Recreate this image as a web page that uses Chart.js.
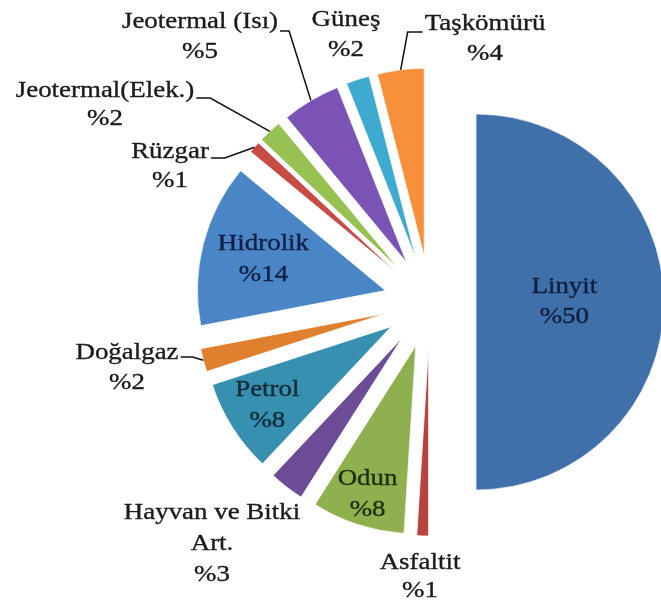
<!DOCTYPE html>
<html><head><meta charset="utf-8">
<script src="https://cdn.jsdelivr.net/npm/chart.js@4.4.1/dist/chart.umd.min.js"></script>
<style>html,body{margin:0;padding:0;background:#fff;} canvas{display:block;}</style>
</head><body>
<canvas id="c" width="661" height="606"></canvas>
<script>
// ---- data ----
const categories = ['Linyit','Asfaltit','Odun','Hayvan ve Bitki Art.','Petrol','Doğalgaz','Hidrolik','Rüzgar','Jeotermal(Elek.)','Jeotermal (Isı)','Güneş','Taşkömürü'];
const shares = [50,1,8,3,8,2,14,1,2,5,2,4];
const valueLabels = ['%50','%1','%8','%3','%8','%2','%14','%1','%2','%5','%2','%4'];

// ---- style ----
const sliceColors = ['#4070A9','#B8443F','#8EB04F','#6C4C97','#3790AF','#E0802F','#4A85C6','#C84B45','#97C150','#7B53B5','#3FAACF','#F7903A'];
const EXPLODE = 46;
const RADIUS = 188;
const FONT = '23px "Liberation Serif", "Times New Roman", serif';
const SX = 1.17;
const labelStyle = [
  {inside:true, f:0.47, lh:30, color:'#0e1f3f'},
  {x:420, y:563, lh:28},
  {inside:true, f:0.83, lh:31, color:'#1d2e0c'},
  {x:212, y:513, lh:31, lines:['Hayvan ve Bitki','Art.']},
  {inside:true, f:0.78, lh:31, color:'#0d2a38'},
  {x:127, y:353, lh:30, leader:{side:'right', dy:4, stub:12}},
  {inside:true, f:0.67, lh:31, color:'#0e1f44'},
  {x:170, y:152, lh:29, leader:{side:'right', dy:6, stub:14}},
  {x:105, y:91, lh:28, leader:{side:'right', dy:7, stub:14}},
  {x:200, y:22, lh:30, leader:{side:'right', dy:9, stub:9}},
  {x:346, y:20, lh:30},
  {x:485, y:24, lh:30, leader:{side:'left', dy:8, stub:15}}
];

const explodePlugin = {
  id:'explode',
  beforeDatasetsDraw(chart){
    chart.getDatasetMeta(0).data.forEach(arc => {
      if (arc._exploded) return;
      const orig = arc.draw.bind(arc);
      arc.draw = function(ctx){
        const a = (this.startAngle + this.endAngle) / 2;
        ctx.save();
        ctx.translate(Math.cos(a) * EXPLODE, Math.sin(a) * EXPLODE);
        orig(ctx);
        ctx.restore();
      };
      arc._exploded = true;
    });
  }
};

function drawText(ctx, str, x, y){
  ctx.save();
  ctx.translate(x, y);
  ctx.scale(SX, 1);
  ctx.strokeStyle = ctx.fillStyle;
  ctx.lineWidth = 0.35;
  ctx.fillText(str, 0, 0);
  ctx.strokeText(str, 0, 0);
  ctx.restore();
}

const labelPlugin = {
  id:'sliceLabels',
  afterDatasetsDraw(chart){
    const ctx = chart.ctx;
    ctx.save();
    ctx.font = FONT;
    ctx.textAlign = 'center';
    ctx.textBaseline = 'middle';
    chart.getDatasetMeta(0).data.forEach((arc, i) => {
      const p = arc.getProps(['x','y','startAngle','endAngle','outerRadius'], true);
      const a = (p.startAngle + p.endAngle) / 2;
      const st = labelStyle[i];
      const lines = (st.lines || [categories[i]]).concat([valueLabels[i]]);
      if (st.inside) {
        const d = EXPLODE + st.f * p.outerRadius;
        const cx = p.x + Math.cos(a) * d, cy = p.y + Math.sin(a) * d;
        ctx.fillStyle = st.color;
        const y0 = cy - (lines.length - 1) * st.lh / 2;
        lines.forEach((t, k) => drawText(ctx, t, cx, y0 + k * st.lh));
      } else {
        ctx.fillStyle = '#1b1b1b';
        lines.forEach((t, k) => drawText(ctx, t, st.x, st.y + k * st.lh));
        if (st.leader) {
          const w = ctx.measureText(lines[0]).width * SX;
          const L = st.leader;
          const sx = L.side === 'right' ? st.x + w / 2 + 2 : st.x - w / 2 - 2;
          const ex = L.side === 'right' ? sx + L.stub : sx - L.stub;
          const ly = st.y + L.dy;
          const d = EXPLODE + p.outerRadius;
          const px = p.x + Math.cos(a) * d, py = p.y + Math.sin(a) * d;
          ctx.strokeStyle = '#111';
          ctx.lineWidth = 1.5;
          ctx.beginPath();
          ctx.moveTo(sx, ly);
          ctx.lineTo(ex, ly);
          ctx.lineTo(px, py);
          ctx.stroke();
        }
      }
    });
    ctx.restore();
  }
};

new Chart(document.getElementById('c'), {
  type:'pie',
  data:{
    labels:categories,
    datasets:[{
      data:shares,
      backgroundColor:sliceColors,
      borderColor:'rgba(255,255,255,0.7)',
      borderWidth:1,
      radius:RADIUS,
      clip:false
    }]
  },
  options:{
    responsive:false,
    animation:false,
    devicePixelRatio:1,
    events:[],
    layout:{padding:{left:199,right:0,top:0,bottom:2}},
    plugins:{legend:{display:false}, tooltip:{enabled:false}}
  },
  plugins:[explodePlugin, labelPlugin]
});
</script>
</body></html>
